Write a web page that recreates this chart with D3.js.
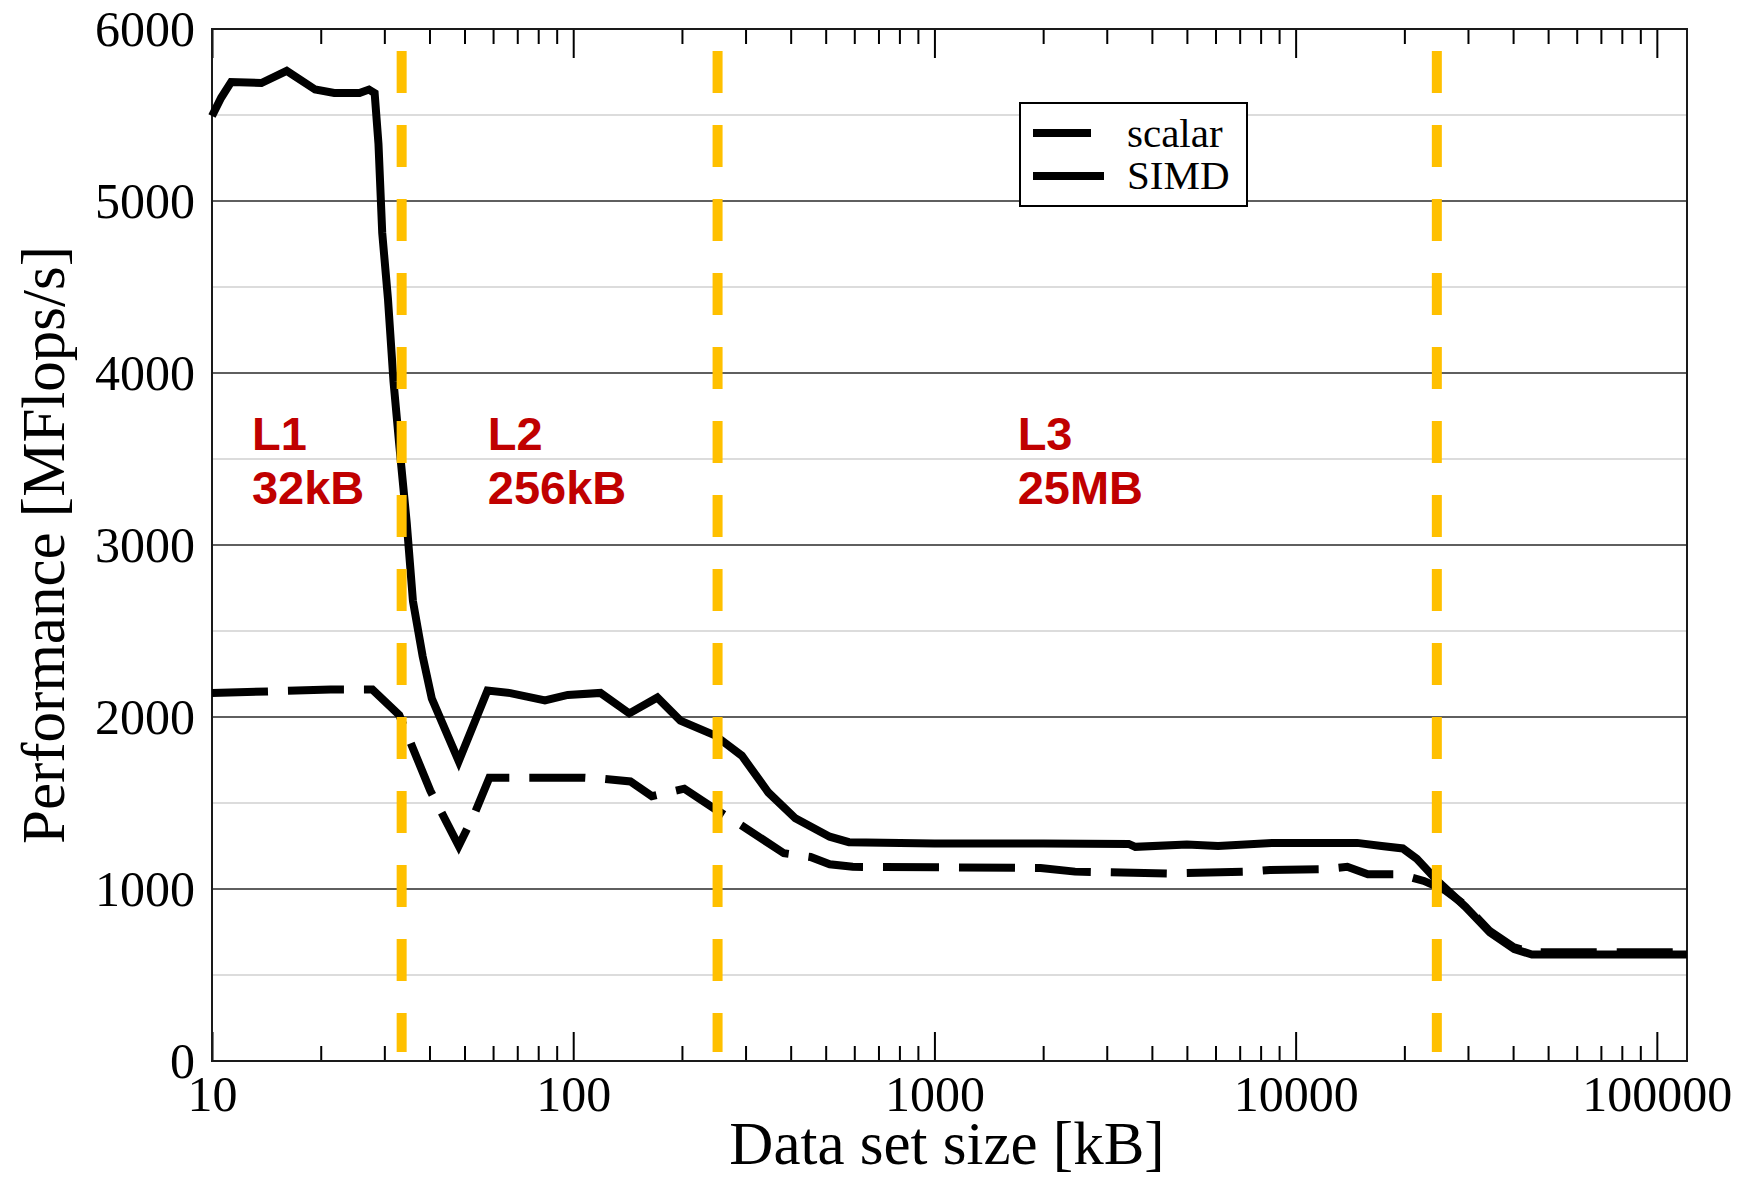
<html>
<head>
<meta charset="utf-8">
<script src="https://d3js.org/d3.v7.min.js"></script>
<style>
body {
  margin: 0;
  background-color: #ffffff;
}
.tick text {
  font-family: "Liberation Serif", "Times New Roman", serif;
  font-size: 50px;
  fill: #000;
}
.cache {
  font-family: "Liberation Sans", Arial, sans-serif;
  font-weight: bold;
  font-size: 47px;
  fill: #C00000;
}
</style>
</head>
<body>
<script>

// SIMD run, data set size in kB / MFlops/s
var simdSize = [10, 10.6, 11.3, 13.7, 16.1, 19.3, 21.8, 25.6, 27.2, 28.2, 28.9, 29.6, 30.7, 31.8,
  33.0, 34.6, 36.0, 38.3, 40.6, 48.2, 57.9, 67, 83.5, 96.6, 119, 143, 171, 198, 247, 293, 347,
  412, 513, 580, 1000, 2000, 3450, 3600, 5000, 6100, 8700, 14800, 17300, 19800, 21650, 24700,
  29500, 34500, 40300, 45100, 121200];
var simdPerf = [5494, 5600, 5692, 5686, 5757, 5648, 5628, 5628, 5648, 5628, 5331, 4814, 4431, 3952,
  3580, 3130, 2674, 2353, 2107, 1743, 2154, 2139, 2096, 2128, 2140, 2021, 2113, 1979, 1893, 1775, 1561,
  1411, 1304, 1272, 1265, 1265, 1262, 1245, 1258, 1250, 1268, 1268, 1250, 1236, 1176, 1047,
  897, 747, 651, 619, 619];

// scalar run
var scalarSize = [10, 21.3, 27.8, 33, 40.2, 48.2, 53.2, 58.6, 106.6, 121.6, 144, 165, 203, 247, 293,
  383, 454, 513, 594, 1967, 2450, 4400, 7280, 8490, 12150, 13900, 15850, 19360, 22650, 25870,
  29500, 34500, 40300, 45100, 121200];
var scalarPerf = [2139, 2160, 2160, 2011, 1572, 1251, 1433, 1647, 1647, 1640, 1625, 1540, 1583, 1465, 1368,
  1208, 1186, 1144, 1129, 1122, 1101, 1090, 1100, 1111, 1116, 1129, 1086, 1086, 1047, 994,
  905, 755, 660, 632, 632];

// cache boundaries (kB) and their labels
var cacheSize = [33.5, 251, 24600];
var cacheName = ["L1", "L2", "L3"];
var cacheCap = ["32kB", "256kB", "25MB"];
var cacheLabelAt = [12.9, 58, 1700];

var yTicks = [0, 1000, 2000, 3000, 4000, 5000, 6000];
var yMinor = [500, 1500, 2500, 3500, 4500, 5500];
var xTicks = [10, 100, 1000, 10000, 100000];

var margin = {top: 29, right: 59, bottom: 120, left: 212},
    width = 1746 - margin.left - margin.right,
    height = 1181 - margin.top - margin.bottom;

var x = d3.scaleLog().domain([10, 121200]).range([0, width]);
var y = d3.scaleLinear().domain([0, 6000]).range([height, 0]);

var svg = d3.select('body').append('svg')
    .attr('width', 1746)
    .attr('height', 1181)
  .append('g')
    .attr('transform', 'translate(' + margin.left + ',' + margin.top + ')');

// grid lines
svg.selectAll('.minor')
    .data(yMinor)
    .enter().append('line')
    .attr('x1', 0).attr('x2', width)
    .attr('y1', function(d) { return y(d); })
    .attr('y2', function(d) { return y(d); })
    .style('stroke', '#dcdcdc')
    .style('stroke-width', 2);

svg.selectAll('.major')
    .data(yTicks)
    .enter().append('line')
    .attr('x1', 0).attr('x2', width)
    .attr('y1', function(d) { return y(d); })
    .attr('y2', function(d) { return y(d); })
    .style('stroke', '#2a2a2a')
    .style('stroke-width', 1.6);

// minor x ticks (2..9 of each decade)
var minorTicks = x.ticks().filter(function(d) { return xTicks.indexOf(d) < 0; });

function styleAxis(g) {
  g.select('.domain').remove();
  g.selectAll('.tick line').style('stroke', '#000').style('stroke-width', 2);
}

svg.append('g')
    .attr('transform', 'translate(0,' + height + ')')
    .call(d3.axisBottom(x).tickValues(xTicks).tickSize(-29).tickPadding(14).tickFormat(d3.format('d')))
    .call(styleAxis);
svg.append('g')
    .attr('transform', 'translate(0,' + height + ')')
    .call(d3.axisBottom(x).tickValues(minorTicks).tickSize(-15).tickFormat(''))
    .call(styleAxis);
svg.append('g')
    .call(d3.axisTop(x).tickValues(xTicks).tickSize(-29).tickFormat(''))
    .call(styleAxis);
svg.append('g')
    .call(d3.axisTop(x).tickValues(minorTicks).tickSize(-15).tickFormat(''))
    .call(styleAxis);

svg.append('g')
    .call(d3.axisLeft(y).tickValues(yTicks).tickSize(0).tickPadding(17).tickFormat(d3.format('d')))
    .call(styleAxis);

// frame
svg.append('rect')
    .attr('width', width)
    .attr('height', height)
    .style('fill', 'none')
    .style('stroke', '#1a1a1a')
    .style('stroke-width', 2);

// data lines
var line = d3.line()
    .x(function(d) { return x(d[0]); })
    .y(function(d) { return y(d[1]); });

svg.append('path')
    .datum(d3.zip(scalarSize, scalarPerf))
    .attr('d', line)
    .style('fill', 'none')
    .style('stroke', '#000')
    .style('stroke-width', 8)
    .style('stroke-dasharray', '56,20');

svg.append('path')
    .datum(d3.zip(simdSize, simdPerf))
    .attr('d', line)
    .style('fill', 'none')
    .style('stroke', '#000')
    .style('stroke-width', 8);

// cache size markers
svg.selectAll('.cacheline')
    .data(cacheSize)
    .enter().append('line')
    .attr('x1', function(d) { return x(d); })
    .attr('x2', function(d) { return x(d); })
    .attr('y1', 22)
    .attr('y2', height - 9)
    .style('stroke', '#FFC000')
    .style('stroke-width', 10)
    .style('stroke-dasharray', '42,32');

cacheName.forEach(function(n, i) {
  var t = svg.append('text')
      .attr('class', 'cache')
      .attr('x', x(cacheLabelAt[i]))
      .attr('y', 421);
  t.append('tspan').text(n);
  t.append('tspan').attr('x', x(cacheLabelAt[i])).attr('y', 475).text(cacheCap[i]);
});

// legend
var lg = svg.append('g').attr('transform', 'translate(' + (1020 - margin.left) + ',' + (103 - margin.top) + ')');
lg.append('rect')
    .attr('width', 227)
    .attr('height', 103)
    .style('fill', '#fff')
    .style('stroke', '#000')
    .style('stroke-width', 2);
lg.append('line')
    .attr('x1', 13).attr('x2', 71).attr('y1', 30).attr('y2', 30)
    .style('stroke', '#000').style('stroke-width', 8).style('stroke-dasharray', '58,20');
lg.append('line')
    .attr('x1', 13).attr('x2', 84).attr('y1', 73).attr('y2', 73)
    .style('stroke', '#000').style('stroke-width', 8);
lg.selectAll('.ltext')
    .data(['scalar', 'SIMD'])
    .enter().append('text')
    .attr('x', 107)
    .attr('y', function(d, i) { return 44 + i * 42; })
    .style('font-family', '"Liberation Serif", serif')
    .style('font-size', '41px')
    .text(function(d) { return d; });

// axis titles
svg.append('text')
    .attr('x', 947 - margin.left)
    .attr('y', 1164 - margin.top)
    .attr('text-anchor', 'middle')
    .style('font-family', '"Liberation Serif", serif')
    .style('font-size', '61px')
    .text('Data set size [kB]');

svg.append('text')
    .attr('transform', 'rotate(-90)')
    .attr('x', -height / 2)
    .attr('y', 64 - margin.left)
    .attr('text-anchor', 'middle')
    .style('font-family', '"Liberation Serif", serif')
    .style('font-size', '61px')
    .text('Performance [MFlops/s]');

</script>
</body>
</html>
